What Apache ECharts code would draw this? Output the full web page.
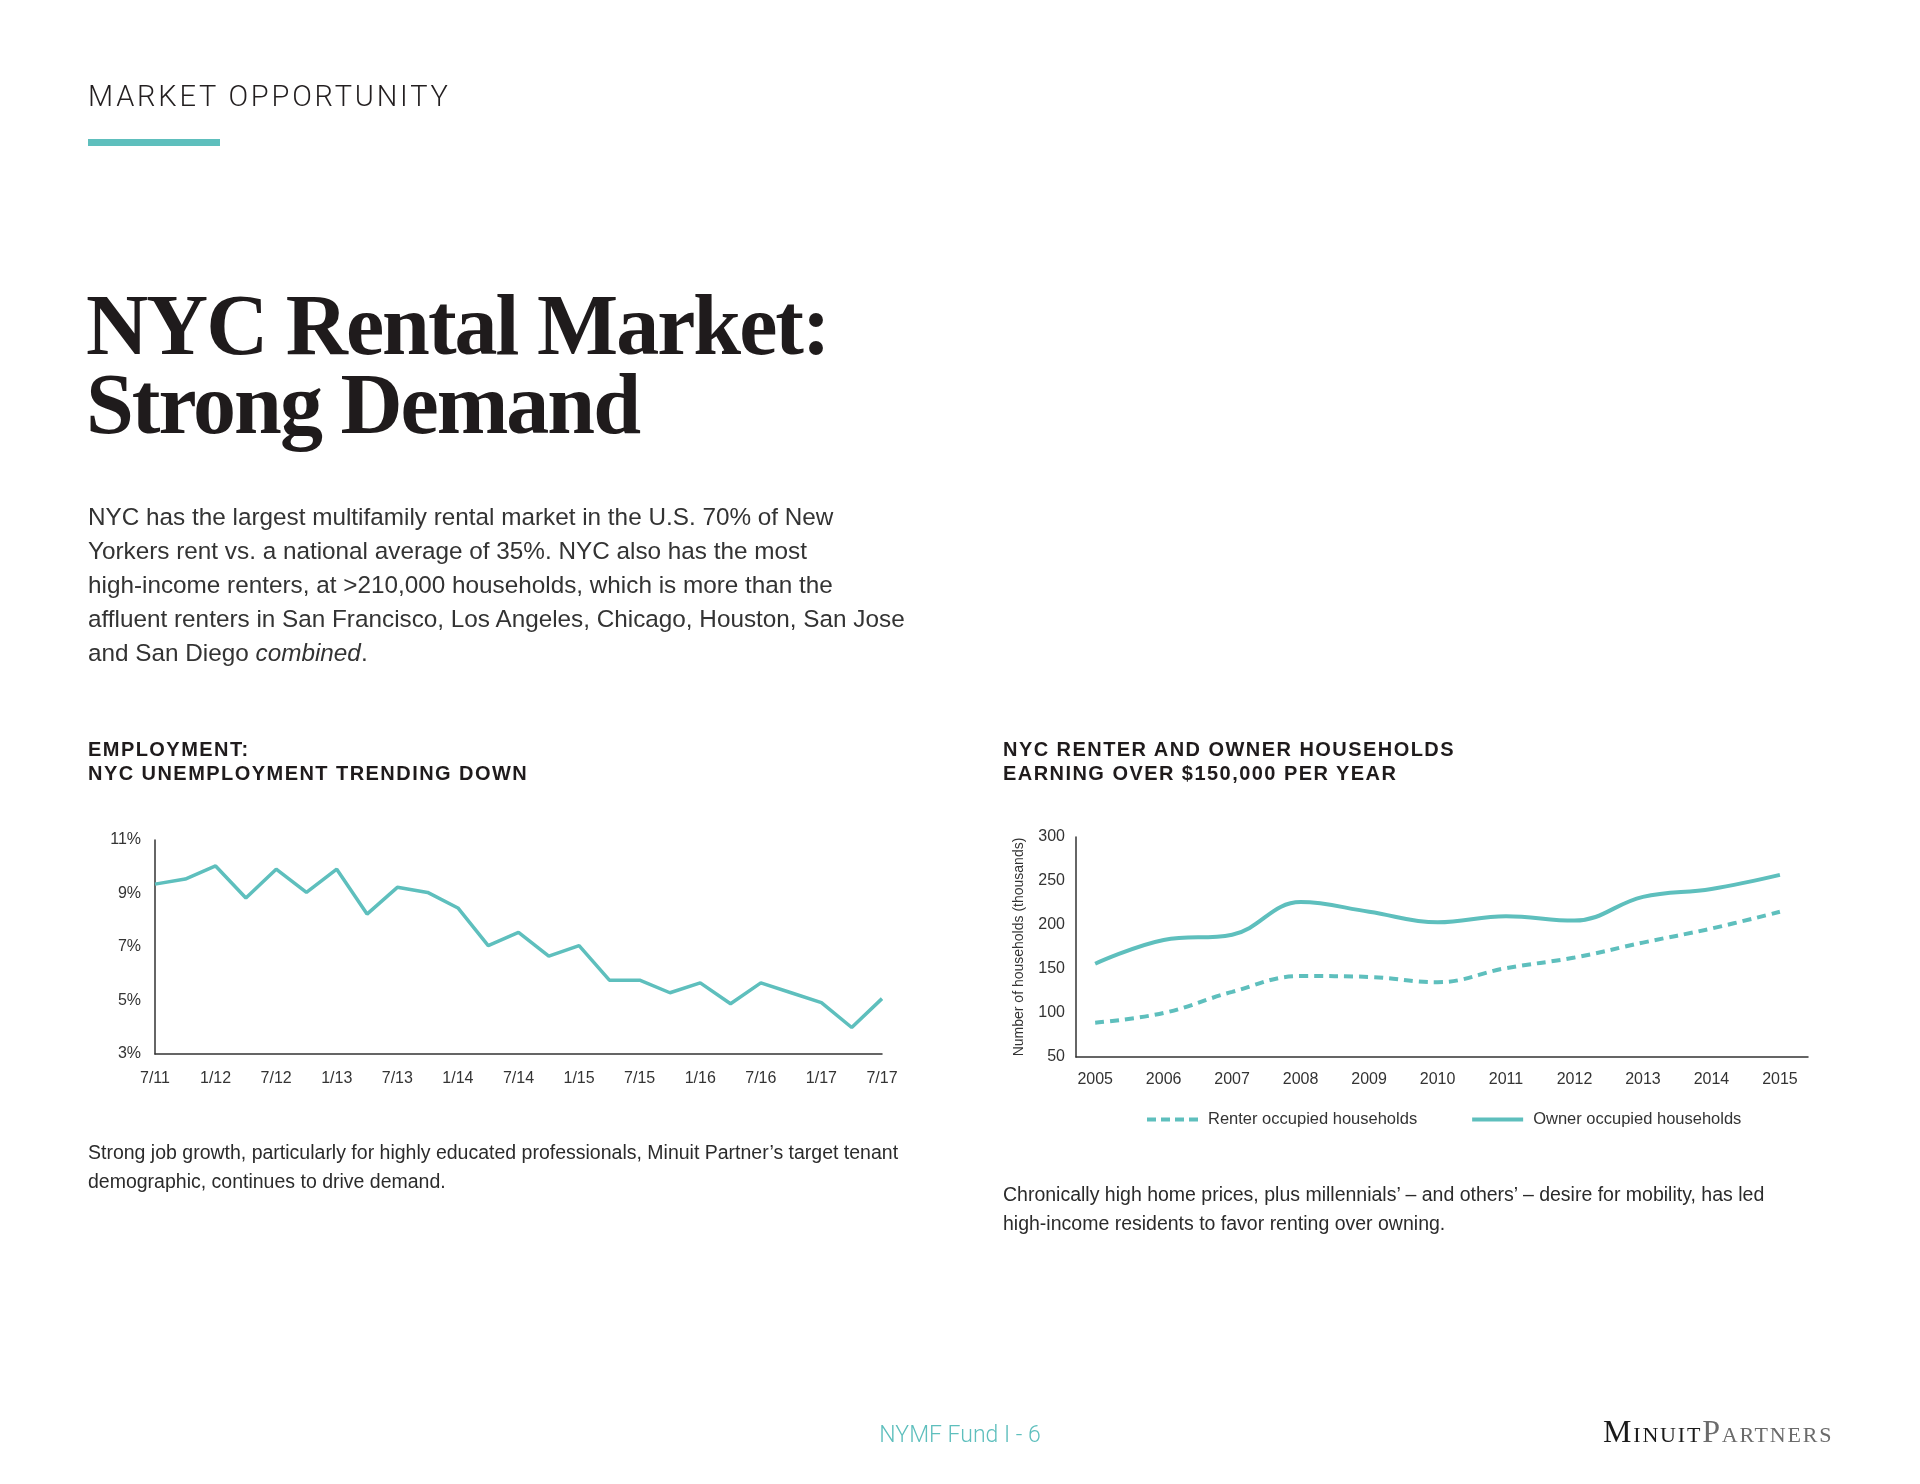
<!DOCTYPE html>
<html>
<head>
<meta charset="utf-8">
<script src="https://cdn.jsdelivr.net/npm/echarts@6/dist/echarts.min.js"></script>
<style>
  html, body { margin: 0; padding: 0; background: #fff; }
  #page { position: relative; width: 1920px; height: 1484px; overflow: hidden; }
  #chart { position: absolute; left: 0; top: 0; width: 1920px; height: 1484px; }
  .txt { position: absolute; white-space: nowrap; color: #231f20; }
  .kicker { left: 88px; top: 82px; font: 300 29px/29px Roboto, "Liberation Sans", sans-serif; letter-spacing: 2.8px; }
  .bar { position: absolute; left: 88px; top: 139px; width: 132px; height: 7px; background: #5ebfbd; }
  .title { left: 86px; top: 286px; font: bold 86px/79px "Liberation Serif", serif; letter-spacing: -2px; color: #1f1b1c; }
  .para { left: 88px; top: 500px; font: 24.3px/34px "Liberation Sans", sans-serif; color: #333; }
  .head { top: 737px; font: bold 20px/24px "Liberation Sans", sans-serif; letter-spacing: 1.45px; color: #1f1b1c; }
  .cap { font: 19.5px/29px "Liberation Sans", sans-serif; color: #2b2b2b; }
  .foot { left: 860px; top: 1421px; width: 200px; text-align: center; font: 300 23px/28px Roboto, "Liberation Sans", sans-serif; color: #5ebfbd; }
  .logo { left: 1603px; top: 1413px; font: 32px/36px "Liberation Serif", serif; font-variant: small-caps; letter-spacing: 1.8px; }
</style>
</head>
<body>
<div id="page">
  <div id="chart"></div>
  <div class="txt kicker">MARKET OPPORTUNITY</div>
  <div class="bar"></div>
  <div class="txt title">NYC Rental Market:<br>Strong Demand</div>
  <div class="txt para">NYC has the largest multifamily rental market in the U.S. 70% of New<br>Yorkers rent vs. a national average of 35%. NYC also has the most<br>high-income renters, at &gt;210,000 households, which is more than the<br>affluent renters in San Francisco, Los Angeles, Chicago, Houston, San Jose<br>and San Diego <i>combined</i>.</div>
  <div class="txt head" style="left:88px">EMPLOYMENT:<br>NYC UNEMPLOYMENT TRENDING DOWN</div>
  <div class="txt head" style="left:1003px">NYC RENTER AND OWNER HOUSEHOLDS<br>EARNING OVER $150,000 PER YEAR</div>
  <div class="txt cap" style="left:88px; top:1138px">Strong job growth, particularly for highly educated professionals, Minuit Partner’s target tenant<br>demographic, continues to drive demand.</div>
  <div class="txt cap" style="left:1003px; top:1180px">Chronically high home prices, plus millennials’ – and others’ – desire for mobility, has led<br>high-income residents to favor renting over owning.</div>
  <div class="txt foot">NYMF Fund I - 6</div>
  <div class="txt logo"><span style="color:#1a1a1a">Minuit</span><span style="color:#6b6b6b">Partners</span></div>
</div>
<script>
// unemployment, quarterly from 7/11 to 7/17
const quarters = ['7/11', '10/11', '1/12', '4/12', '7/12', '10/12', '1/13', '4/13', '7/13', '10/13',
    '1/14', '4/14', '7/14', '10/14', '1/15', '4/15', '7/15', '10/15', '1/16', '4/16',
    '7/16', '10/16', '1/17', '4/17', '7/17'];
const unemployment = [9.35, 9.54, 10.03, 8.83, 9.91, 9.04, 9.91, 8.23, 9.23, 9.04,
    8.46, 7.05, 7.55, 6.66, 7.05, 5.76, 5.76, 5.29, 5.66, 4.88,
    5.66, 5.29, 4.92, 3.99, 5.07];

// households earning over $150k (thousands)
const years = [2005, 2006, 2007, 2008, 2009, 2010, 2011, 2012, 2013, 2014, 2015];
const renterHouseholds = [89, 100, 124, 142, 141, 135, 151, 163, 180, 196, 215];
const ownerHouseholds = [156, 183, 189, 226, 215, 203, 210, 205, 232, 241, 257];

const teal = '#5ebfbd';
const axisColor = '#333';
const labelFont = { color: '#333', fontSize: 16, fontFamily: 'Liberation Sans, sans-serif' };

// legend marks: a dashed bar and a solid bar
const dashIcon = 'path://M0,0h9v4h-9z M14,0h9v4h-9z M28,0h9v4h-9z M42,0h9v4h-9z';
const solidIcon = 'path://M0,0h51v4h-51z';

let myChart = echarts.init(document.getElementById('chart'));
let option = {
    animation: false,
    grid: [
        { left: 155, top: 840, width: 727, height: 214 },
        { left: 1076, top: 837, width: 732, height: 220 }
    ],
    xAxis: [
        {
            gridIndex: 0,
            type: 'category',
            data: quarters,
            boundaryGap: false,
            axisLine: { lineStyle: { color: axisColor, width: 1.5 } },
            axisTick: { show: false },
            axisLabel: Object.assign({ interval: 1, margin: 17 }, labelFont)
        },
        {
            gridIndex: 1,
            type: 'value',
            min: 2004.72,
            max: 2015.41,
            splitLine: { show: false },
            axisLine: { onZero: false, lineStyle: { color: axisColor, width: 1.5 } },
            axisTick: { show: false },
            axisLabel: Object.assign({ customValues: years, margin: 15, formatter: v => String(v) }, labelFont)
        }
    ],
    yAxis: [
        {
            gridIndex: 0,
            type: 'value',
            min: 3,
            max: 11,
            interval: 2,
            splitLine: { show: false },
            axisLine: { show: true, lineStyle: { color: axisColor, width: 1.5 } },
            axisTick: { show: false },
            axisLabel: Object.assign({ formatter: '{value}%', margin: 14 }, labelFont)
        },
        {
            gridIndex: 1,
            type: 'value',
            min: 50,
            max: 300,
            interval: 50,
            splitLine: { show: false },
            axisLine: { show: true, lineStyle: { color: axisColor, width: 1.5 } },
            axisTick: { show: false },
            axisLabel: Object.assign({ margin: 11 }, labelFont),
            name: 'Number of households (thousands)',
            nameLocation: 'middle',
            nameGap: 50,
            nameTextStyle: { color: '#333', fontSize: 14, fontFamily: 'Liberation Sans, sans-serif' }
        }
    ],
    legend: {
        left: 1147,
        top: 1111,
        padding: 0,
        itemWidth: 51,
        itemHeight: 4,
        itemGap: 55,
        textStyle: { color: '#333', fontSize: 16.5, fontFamily: 'Liberation Sans, sans-serif', padding: [0, 0, 0, 5] },
        data: [
            { name: 'Renter occupied households', icon: dashIcon },
            { name: 'Owner occupied households', icon: solidIcon }
        ]
    },
    series: [
        {
            name: 'Unemployment',
            type: 'line',
            xAxisIndex: 0,
            yAxisIndex: 0,
            data: unemployment,
            symbol: 'none',
            lineStyle: { color: teal, width: 3.5 },
            itemStyle: { color: teal }
        },
        {
            name: 'Renter occupied households',
            type: 'line',
            xAxisIndex: 1,
            yAxisIndex: 1,
            data: years.map((y, i) => [y, renterHouseholds[i]]),
            smooth: 0.4,
            symbol: 'none',
            lineStyle: { color: teal, width: 4, type: [9, 6] },
            itemStyle: { color: teal }
        },
        {
            name: 'Owner occupied households',
            type: 'line',
            xAxisIndex: 1,
            yAxisIndex: 1,
            data: years.map((y, i) => [y, ownerHouseholds[i]]),
            smooth: 0.4,
            symbol: 'none',
            lineStyle: { color: teal, width: 4 },
            itemStyle: { color: teal }
        }
    ]
};
myChart.setOption(option);
</script>
</body>
</html>
